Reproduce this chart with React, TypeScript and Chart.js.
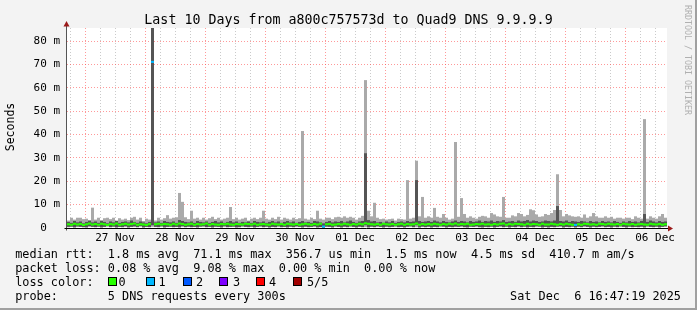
import React, { useEffect, useRef } from "react";
import { Chart, registerables } from "chart.js";

Chart.register(...registerables);

// ---------- text ----------
const TITLE = "Last 10 Days from a800c757573d to Quad9 DNS 9.9.9.9";
const Y_AXIS_TITLE = "Seconds";
const WATERMARK = "RRDTOOL / TOBI OETIKER";
const DATE_STAMP = "Sat Dec  6 16:47:19 2025";
const LINE_MEDIAN = "median rtt:  1.8 ms avg  71.1 ms max  356.7 us min  1.5 ms now  4.5 ms sd  410.7 m am/s";
const LINE_LOSS = "packet loss: 0.08 % avg  9.08 % max  0.00 % min  0.00 % now";
const LINE_COLOR = "loss color:";
const LINE_PROBE = "probe:       5 DNS requests every 300s";

// ---------- axes ----------
const RANGE_HOURS = 240; // 10 days, starting 26 Nov 16:47:19
const SLOT_HOURS = 1.2; // one consolidated sample
const FIRST_MIDNIGHT_HOURS = 7.2114; // 27 Nov 00:00
const DAY_LABELS = ["27 Nov", "28 Nov", "29 Nov", "30 Nov", "01 Dec", "02 Dec", "03 Dec", "04 Dec", "05 Dec", "06 Dec"];
const Y_TICKS = [0, 5, 10, 15, 20, 25, 30, 35, 40, 45, 50, 55, 60, 65, 70, 75, 80, 85];
const Y_MAX = 85.6;

// ---------- series (milliseconds, one value per sample) ----------
const MAX_MS = [
  3.2, 4.4, 3.6, 4.4, 4.4, 3.8, 4.0, 3.2, 8.7, 3.6,
  4.4, 3.4, 4.2, 4.4, 3.8, 4.4, 3.2, 4.2, 3.6, 4.0,
  3.4, 4.4, 4.8, 3.6, 4.4, 3.0, 4.0, 3.6, 85.6, 3.2,
  4.4, 3.6, 4.2, 5.5, 4.0, 4.4, 4.6, 15.0, 11.2, 4.6,
  3.8, 7.4, 4.0, 4.4, 3.6, 4.4, 3.6, 4.2, 4.8, 3.8,
  4.4, 3.6, 4.0, 4.4, 9.0, 3.8, 4.4, 3.6, 4.0, 4.4,
  3.2, 4.0, 4.4, 3.8, 4.4, 7.4, 4.0, 3.6, 4.4, 3.8,
  4.8, 3.6, 4.4, 4.0, 3.6, 4.4, 3.8, 4.2, 41.5, 4.0,
  3.6, 4.4, 3.8, 7.4, 4.0, 3.6, 4.4, 4.4, 3.8, 4.6,
  4.8, 4.4, 5.0, 4.4, 4.8, 4.4, 3.6, 4.4, 5.2, 63.3,
  7.4, 5.0, 10.8, 4.4, 3.8, 4.0, 3.6, 3.8, 4.0, 3.2,
  4.0, 3.8, 3.6, 20.5, 4.0, 4.4, 28.8, 5.0, 13.3, 4.4,
  5.0, 4.4, 8.6, 4.8, 4.4, 6.0, 4.4, 3.6, 4.0, 36.8,
  4.8, 12.8, 6.0, 4.4, 5.0, 4.4, 4.0, 4.8, 5.2, 5.0,
  4.4, 6.4, 5.8, 5.0, 4.8, 13.3, 4.4, 4.4, 5.4, 5.0,
  6.4, 6.0, 5.0, 5.6, 8.0, 7.6, 5.8, 4.8, 5.0, 6.0,
  5.6, 6.4, 7.7, 23.0, 7.7, 5.0, 6.0, 5.4, 5.0, 4.8,
  5.0, 4.4, 5.8, 4.4, 5.0, 6.4, 5.0, 4.4, 4.4, 5.0,
  4.4, 4.8, 4.0, 4.4, 4.4, 4.0, 4.4, 4.4, 3.8, 5.0,
  4.4, 4.0, 46.6, 4.0, 5.0, 4.4, 4.0, 5.0, 6.0, 4.4,
];

const P4_MS = [
  2.6, 2.2, 3.0, 2.4, 2.8, 2.0, 2.6, 3.2, 2.4, 2.8,
  2.2, 3.0, 2.6, 2.0, 2.8, 2.4, 3.0, 2.2, 2.6, 2.8,
  2.4, 3.2, 2.6, 2.2, 2.8, 2.4, 2.0, 2.6, 85.6, 2.4,
  2.8, 2.2, 3.0, 2.6, 2.4, 2.8, 2.2, 3.4, 3.0, 2.6,
  2.4, 2.8, 2.2, 3.0, 2.6, 2.4, 2.8, 2.2, 2.6, 3.0,
  2.4, 2.8, 2.2, 2.6, 3.0, 2.4, 2.8, 2.2, 2.6, 2.4,
  2.8, 2.2, 3.0, 2.6, 2.4, 2.8, 2.2, 2.6, 3.0, 2.4,
  2.8, 2.2, 2.6, 3.0, 2.4, 2.8, 2.2, 2.6, 3.0, 2.4,
  2.6, 2.2, 3.0, 2.8, 2.4, 2.0, 2.6, 3.0, 2.4, 2.8,
  2.6, 3.0, 2.4, 2.8, 3.2, 2.6, 2.2, 2.8, 3.0, 32.0,
  3.4, 2.8, 3.0, 2.4, 2.6, 2.2, 2.8, 2.4, 3.0, 2.2,
  2.6, 2.8, 2.4, 3.0, 2.6, 2.8, 20.5, 3.0, 2.6, 2.8,
  3.0, 2.6, 3.2, 2.8, 2.4, 3.0, 2.6, 2.4, 2.8, 3.2,
  2.6, 3.0, 2.8, 2.4, 3.0, 2.6, 2.8, 3.2, 2.6, 3.0,
  2.8, 3.2, 2.6, 3.0, 2.8, 3.4, 2.6, 2.8, 3.0, 2.6,
  3.2, 2.8, 3.0, 3.4, 2.8, 3.2, 3.0, 2.6, 2.8, 3.2,
  3.0, 2.8, 3.2, 9.4, 3.0, 2.8, 3.2, 2.6, 3.0, 2.8,
  2.6, 3.0, 2.8, 2.4, 3.0, 2.6, 2.8, 2.4, 3.0, 2.6,
  2.8, 2.4, 3.0, 2.6, 2.2, 2.8, 2.4, 3.0, 2.6, 2.8,
  2.4, 3.0, 6.0, 2.6, 3.2, 2.8, 2.4, 3.0, 2.6, 2.8,
];

const P2_MS = [
  0.5, 0.6, 0.3, 0.7, 0.5, 0.4, 0.3, 0.8, 0.5, 0.4,
  0.6, 0.3, 0.5, 0.8, 0.4, 0.6, 0.3, 0.5, 0.4, 0.7,
  0.3, 0.5, 0.7, 0.4, 0.8, 0.3, 0.5, 0.4, 1.2, 0.5,
  0.4, 0.7, 0.3, 0.5, 0.6, 0.4, 0.5, 0.3, 0.7, 0.4,
  0.6, 0.4, 0.5, 0.3, 0.6, 0.7, 0.4, 0.5, 0.3, 0.6,
  0.5, 0.3, 0.7, 0.4, 0.5, 0.6, 0.3, 0.4, 0.7, 0.5,
  0.4, 0.6, 0.3, 0.5, 0.7, 0.4, 0.6, 0.3, 0.5, 0.4,
  0.7, 0.4, 0.5, 0.3, 0.6, 0.4, 0.7, 0.5, 0.3, 0.6,
  0.4, 0.5, 0.7, 0.3, 0.4, 0.2, 0.6, 0.5, 0.3, 0.7,
  0.5, 0.3, 0.6, 0.4, 0.7, 0.5, 0.3, 0.6, 0.4, 1.2,
  0.3, 0.6, 0.4, 0.7, 0.5, 0.3, 0.6, 0.4, 0.5, 0.7,
  0.4, 0.5, 0.3, 0.6, 0.7, 0.4, 1.2, 0.3, 0.6, 0.4,
  0.6, 0.3, 0.5, 0.4, 0.7, 0.6, 0.3, 0.5, 0.4, 0.6,
  0.5, 0.7, 0.4, 0.3, 0.6, 0.5, 0.7, 0.4, 0.3, 0.5,
  0.4, 0.6, 0.3, 0.5, 0.7, 0.4, 0.6, 0.3, 0.5, 0.4,
  0.7, 0.4, 0.6, 0.3, 0.5, 0.4, 0.7, 0.6, 0.3, 0.5,
  0.3, 0.5, 0.4, 0.6, 0.7, 0.3, 0.5, 0.4, 0.6, 0.3,
  0.6, 0.4, 0.7, 0.5, 0.3, 0.6, 0.4, 0.5, 0.7, 0.4,
  0.5, 0.3, 0.6, 0.4, 0.7, 0.5, 0.3, 0.6, 0.4, 0.5,
  0.4, 0.6, 0.3, 0.7, 0.5, 0.4, 0.6, 0.3, 0.5, 0.7,
];

const MIN_MS = [
  0.3, 0.5, 0.2, 0.4, 0.6, 0.3, 0.2, 0.5, 0.4, 0.3,
  0.5, 0.2, 0.4, 0.6, 0.3, 0.5, 0.2, 0.4, 0.3, 0.6,
  0.2, 0.4, 0.5, 0.3, 0.6, 0.2, 0.4, 0.3, 0.5, 0.4,
  0.3, 0.6, 0.2, 0.4, 0.5, 0.3, 0.4, 0.2, 0.6, 0.3,
  0.5, 0.3, 0.4, 0.2, 0.5, 0.6, 0.3, 0.4, 0.2, 0.5,
  0.4, 0.2, 0.6, 0.3, 0.4, 0.5, 0.2, 0.3, 0.6, 0.4,
  0.3, 0.5, 0.2, 0.4, 0.6, 0.3, 0.5, 0.2, 0.4, 0.3,
  0.6, 0.3, 0.4, 0.2, 0.5, 0.3, 0.6, 0.4, 0.2, 0.5,
  0.3, 0.4, 0.6, 0.2, 0.3, 0.1, 0.5, 0.4, 0.2, 0.6,
  0.4, 0.2, 0.5, 0.3, 0.6, 0.4, 0.2, 0.5, 0.3, 0.4,
  0.2, 0.5, 0.3, 0.6, 0.4, 0.2, 0.5, 0.3, 0.4, 0.6,
  0.3, 0.4, 0.2, 0.5, 0.6, 0.3, 0.4, 0.2, 0.5, 0.3,
  0.5, 0.2, 0.4, 0.3, 0.6, 0.5, 0.2, 0.4, 0.3, 0.5,
  0.4, 0.6, 0.3, 0.2, 0.5, 0.4, 0.6, 0.3, 0.2, 0.4,
  0.3, 0.5, 0.2, 0.4, 0.6, 0.3, 0.5, 0.2, 0.4, 0.3,
  0.6, 0.3, 0.5, 0.2, 0.4, 0.3, 0.6, 0.5, 0.2, 0.4,
  0.2, 0.4, 0.3, 0.5, 0.6, 0.2, 0.4, 0.3, 0.5, 0.2,
  0.5, 0.3, 0.6, 0.4, 0.2, 0.5, 0.3, 0.4, 0.6, 0.3,
  0.4, 0.2, 0.5, 0.3, 0.6, 0.4, 0.2, 0.5, 0.3, 0.4,
  0.3, 0.5, 0.2, 0.6, 0.4, 0.3, 0.5, 0.2, 0.4, 0.6,
];

const MEDIAN_MS = [
  1.6, 1.4, 1.8, 1.5, 1.7, 1.3, 1.6, 1.9, 1.5, 1.7,
  1.4, 1.8, 1.6, 1.3, 1.7, 1.5, 1.9, 1.4, 1.6, 1.8,
  1.5, 1.7, 1.9, 1.4, 1.6, 1.5, 1.3, 1.7, 71.1, 1.6,
  1.8, 1.5, 1.7, 1.6, 1.4, 1.8, 1.5, 1.9, 1.7, 1.4,
  1.6, 1.8, 1.4, 1.7, 1.5, 1.6, 1.9, 1.4, 1.7, 1.5,
  1.4, 1.7, 1.6, 1.8, 1.5, 1.4, 1.7, 1.6, 1.5, 1.8,
  1.7, 1.5, 1.8, 1.4, 1.6, 1.7, 1.5, 1.4, 1.8, 1.6,
  1.5, 1.7, 1.4, 1.8, 1.6, 1.5, 1.7, 1.4, 1.6, 1.8,
  1.6, 1.4, 1.7, 1.5, 1.8, 0.6, 1.6, 1.7, 1.4, 1.5,
  1.7, 1.5, 1.8, 1.6, 1.4, 1.7, 1.5, 1.8, 1.6, 2.0,
  1.8, 1.6, 1.5, 1.7, 1.4, 1.8, 1.6, 1.5, 1.7, 1.4,
  1.6, 1.8, 1.4, 1.7, 1.5, 1.6, 1.9, 1.4, 1.7, 1.5,
  1.7, 1.5, 1.8, 1.6, 1.4, 1.7, 1.5, 1.8, 1.6, 1.9,
  1.5, 1.7, 1.6, 1.8, 1.4, 1.5, 1.7, 1.6, 1.8, 1.5,
  1.6, 1.4, 1.7, 1.5, 1.8, 1.9, 1.4, 1.7, 1.5, 1.8,
  1.7, 1.6, 1.4, 1.8, 1.5, 1.7, 1.6, 1.4, 1.8, 1.5,
  1.5, 1.8, 1.6, 1.4, 1.7, 1.5, 1.8, 1.6, 1.4, 1.3,
  1.6, 1.4, 1.8, 1.7, 1.5, 1.6, 1.4, 1.8, 1.7, 1.5,
  1.8, 1.6, 1.5, 1.7, 1.4, 1.8, 1.6, 1.5, 1.7, 1.4,
  1.6, 1.7, 1.5, 1.4, 1.8, 1.6, 1.5, 1.7, 1.4, 1.6,
];

// samples where pings were lost (sample index, lost pings out of 5)
const LOSS_SLOTS = [28, 85, 169];
const LOSS_COUNTS = [1, 1, 1];

const LOSS_COLORS = ["#26ff00", "#00b8ff", "#0059ff", "#7e00ff", "#ff0000", "#a10000"];
const LOSS_LABELS = ["0", "1", "2", "3", "4", "5/5"];

// ---------- styling ----------
const MONO = "'DejaVu Sans Mono', monospace";
const LEGEND_FONT = 11.83;
const GRID_MAJOR = "rgba(255,70,70,0.55)";
const GRID_MINOR = "rgba(150,150,150,0.5)";
const SMOKE_LIGHT = "#aaaaaa";
const SMOKE_DARK = "#555555";
const MEDIAN_HALF = 0.45; // half-thickness of the median line in ms (about 2px)

const isMidnight = (v: number) => {
  const r = (((v - FIRST_MIDNIGHT_HOURS) % 24) + 24) % 24;
  return r < 0.01 || r > 23.99;
};

const rrdPlugin = {
  id: "rrdFrame",
  beforeDraw(chart: any) {
    const { ctx, chartArea: a } = chart;
    ctx.save();
    ctx.fillStyle = "#ffffff";
    ctx.fillRect(a.left, a.top, a.right - a.left, a.bottom - a.top);
    ctx.restore();
  },
  afterDatasetsDraw(chart: any) {
    const { ctx, chartArea: a } = chart;
    const y0 = Math.round(chart.scales.y.getPixelForValue(0)) + 0.5;
    const xL = a.left - 0.5;
    ctx.save();
    ctx.strokeStyle = "#555555";
    ctx.lineWidth = 1;
    ctx.beginPath();
    ctx.moveTo(xL, y0 + 2);
    ctx.lineTo(xL, a.top - 5);
    ctx.stroke();
    ctx.strokeStyle = "#000000";
    ctx.beginPath();
    ctx.moveTo(xL - 2, y0);
    ctx.lineTo(a.right + 1, y0);
    ctx.stroke();
    ctx.fillStyle = "#9b1a1a";
    ctx.beginPath();
    ctx.moveTo(xL, a.top - 7);
    ctx.lineTo(xL - 3, a.top - 1.5);
    ctx.lineTo(xL + 3, a.top - 1.5);
    ctx.closePath();
    ctx.fill();
    ctx.beginPath();
    ctx.moveTo(a.right + 6, y0);
    ctx.lineTo(a.right + 1, y0 - 3);
    ctx.lineTo(a.right + 1, y0 + 3);
    ctx.closePath();
    ctx.fill();
    ctx.restore();
  },
};

function Txt(props: { x: number; y: number; text: string; size?: number; align?: "left" | "right"; color?: string }) {
  const size = props.size ?? LEGEND_FONT;
  const style: React.CSSProperties = {
    position: "absolute",
    top: props.y,
    fontSize: size,
    lineHeight: "14px",
    whiteSpace: "pre",
    color: props.color ?? "#000",
  };
  if (props.align === "right") style.right = 697 - props.x;
  else style.left = props.x;
  return <div style={style}>{props.text}</div>;
}

export default function App() {
  const canvasRef = useRef<HTMLCanvasElement | null>(null);

  useEffect(() => {
    const canvas = canvasRef.current;
    if (!canvas) return;

    const slotX = MAX_MS.map((_, i) => (i + 0.5) * SLOT_HOURS);
    const loss = MAX_MS.map(() => 0);
    LOSS_SLOTS.forEach((s, k) => (loss[s] = LOSS_COUNTS[k]));

    const xGrid: number[] = [];
    for (let t = FIRST_MIDNIGHT_HOURS - 6; t < RANGE_HOURS; t += 6) xGrid.push(t);

    const barCommon = {
      type: "bar" as const,
      grouped: false,
      barPercentage: 1,
      categoryPercentage: 1,
      inflateAmount: 0,
      borderWidth: 0,
    };

    const chart = new Chart(canvas, {
      type: "bar",
      data: {
        datasets: [
          {
            ...barCommon,
            label: "median",
            order: 0,
            data: slotX.map((x, i) => ({ x, y: [MEDIAN_MS[i] - MEDIAN_HALF, MEDIAN_MS[i] + MEDIAN_HALF] })),
            backgroundColor: loss.map((l) => LOSS_COLORS[l]),
          },
          {
            ...barCommon,
            label: "inner smoke",
            order: 1,
            data: slotX.map((x, i) => ({ x, y: [P2_MS[i], P4_MS[i]] })),
            backgroundColor: SMOKE_DARK,
          },
          {
            ...barCommon,
            label: "outer smoke",
            order: 2,
            data: slotX.map((x, i) => ({ x, y: [MIN_MS[i], MAX_MS[i]] })),
            backgroundColor: SMOKE_LIGHT,
          },
        ] as any,
      },
      options: {
        animation: false,
        responsive: false,
        devicePixelRatio: 1,
        events: [],
        layout: { padding: { left: 0, top: 28, right: 30, bottom: 0 } },
        plugins: { legend: { display: false }, tooltip: { enabled: false }, title: { display: false } },
        scales: {
          x: {
            type: "linear",
            min: 0,
            max: RANGE_HOURS,
            offset: false,
            afterBuildTicks: (s: any) => {
              s.ticks = xGrid.map((v) => ({ value: v }));
            },
            afterFit: (s: any) => {
              s.height = 82;
            },
            grid: {
              offset: false,
              drawTicks: false,
              lineWidth: 1,
              color: (ctx: any) => (ctx.tick && isMidnight(ctx.tick.value) ? GRID_MAJOR : GRID_MINOR),
            },
            border: { display: false, dash: [1, 2] },
            ticks: {
              autoSkip: false,
              maxRotation: 0,
              padding: 4,
              color: "#000",
              font: { family: MONO, size: 11 },
              callback: (v: any) => {
                const d = Math.round((Number(v) - FIRST_MIDNIGHT_HOURS - 12) / 24);
                const noon = FIRST_MIDNIGHT_HOURS + 12 + 24 * d;
                return Math.abs(Number(v) - noon) < 0.01 && DAY_LABELS[d] ? DAY_LABELS[d] : "";
              },
            },
          },
          y: {
            type: "linear",
            min: 0,
            max: Y_MAX,
            afterBuildTicks: (s: any) => {
              s.ticks = Y_TICKS.map((v) => ({ value: v }));
            },
            afterFit: (s: any) => {
              s.width = 67;
            },
            grid: {
              drawTicks: false,
              lineWidth: 1,
              color: (ctx: any) => {
                const v = ctx.tick ? ctx.tick.value : 0;
                if (v === 0) return "rgba(0,0,0,0)";
                return v % 10 === 0 ? GRID_MAJOR : GRID_MINOR;
              },
            },
            border: { display: false, dash: [1, 2] },
            ticks: {
              padding: 7,
              color: "#000",
              font: { family: MONO, size: 11 },
              callback: (v: any) => {
                const n = Number(v);
                if (n === 0) return "0  ";
                return n % 10 === 0 ? `${n} m` : "";
              },
            },
          },
        },
      },
      plugins: [rrdPlugin],
    });

    return () => chart.destroy();
  }, []);

  const boxX = [108, 146, 183, 219, 256, 293];
  const boxLabelX = [118.5, 158.5, 196, 233, 269, 307];

  return (
    <div
      style={{
        position: "absolute",
        left: 0,
        top: 0,
        width: 697,
        height: 310,
        background: "#f3f3f3",
        overflow: "hidden",
        fontFamily: MONO,
      }}
    >
      <canvas ref={canvasRef} width={697} height={310} style={{ position: "absolute", left: 0, top: 0, width: 697, height: 310 }} />
      <div style={{ position: "absolute", left: 0, top: 11.5, width: 697, textAlign: "center", fontSize: 13.3, lineHeight: "16px", whiteSpace: "pre", color: "#000" }}>
        {TITLE}
      </div>
      <div
        style={{
          position: "absolute",
          left: 10 - 40,
          top: 127 - 7,
          width: 80,
          height: 14,
          lineHeight: "14px",
          fontSize: 11.5,
          textAlign: "center",
          transform: "rotate(-90deg)",
          color: "#000",
        }}
      >
        {Y_AXIS_TITLE}
      </div>
      <div
        style={{
          position: "absolute",
          left: 687.5 - 60,
          top: 60 - 5,
          width: 120,
          height: 10,
          lineHeight: "10px",
          fontSize: 8.3,
          textAlign: "center",
          transform: "rotate(90deg)",
          color: "#b0b0b0",
          whiteSpace: "pre",
        }}
      >
        {WATERMARK}
      </div>

      <Txt x={15.2} y={247} text={LINE_MEDIAN} />
      <Txt x={15.2} y={261} text={LINE_LOSS} />
      <Txt x={15.2} y={275} text={LINE_COLOR} />
      {LOSS_COLORS.map((c, i) => (
        <div
          key={"b" + i}
          style={{ position: "absolute", left: boxX[i], top: 277, width: 9, height: 9, boxSizing: "border-box", border: "1px solid #000", background: c }}
        />
      ))}
      {LOSS_LABELS.map((s, i) => (
        <Txt key={"t" + i} x={boxLabelX[i]} y={275} text={s} />
      ))}
      <Txt x={15.2} y={289} text={LINE_PROBE} />
      <Txt x={681} y={289} text={DATE_STAMP} align="right" />

      <div style={{ position: "absolute", left: 695, top: 0, width: 2, height: 310, background: "#a0a0a0" }} />
      <div style={{ position: "absolute", left: 0, top: 308, width: 697, height: 2, background: "#a0a0a0" }} />
    </div>
  );
}
